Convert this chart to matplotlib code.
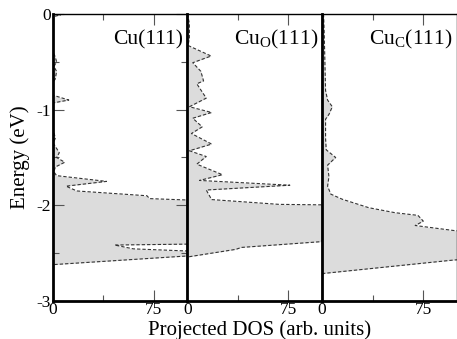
import numpy as np
import matplotlib.pyplot as plt
from matplotlib.ticker import MultipleLocator

plt.rcParams['font.family'] = ['Liberation Serif', 'DejaVu Serif']
plt.rcParams['mathtext.fontset'] = 'custom'
plt.rcParams['mathtext.rm'] = 'Liberation Serif'

# Cu(111) projected DOS (energy in eV, DOS in arb. units)
e_cu = [0.0, -0.01, -0.03, -0.1, -0.4, -0.45, -0.5, -0.55, -0.6, -0.68, -0.72,
        -0.85, -0.9, -0.93, -1.2, -1.3, -1.35, -1.45, -1.5, -1.55, -1.6, -1.65,
        -1.69, -1.75, -1.8, -1.85, -1.9, -1.93, -1.96, -2.40, -2.415, -2.455,
        -2.48, -2.50, -2.52, -2.62, -3.0]
dos_cu = [0, 6, 0, 0.5, 0.5, 2, 3, 1, 3, 2, 0,
          0.5, 12, 0.5, 0.5, 2, 0.5, 5, 3, 9, 2, 1,
          3, 40, 10, 18, 70, 72, 130, 130, 46, 60,
          105, 130, 110, 0, 0]

# Cu_O(111)
e_cuo = [0.0, -0.1, -0.25, -0.33, -0.44, -0.51, -0.6, -0.7, -0.73, -0.88, -0.97,
         -1.03, -1.09, -1.18, -1.25, -1.36, -1.43, -1.49, -1.57, -1.68, -1.74,
         -1.79, -1.84, -1.94, -1.99, -2.0, -2.38, -2.44, -2.46, -2.54, -3.0]
dos_cuo = [0, 1.5, 1.5, 0.5, 17.6, 4, 10, 12, 7, 14, 1.5,
           18, 4, 11, 3, 18, 1.5, 14, 7, 26, 9,
           76, 14, 18, 68, 130, 99, 40, 36, 0, 0]

# Cu_C(111)
e_cuc = [0.0, -0.2, -0.5, -0.8, -0.9, -0.97, -1.05, -1.1, -1.3, -1.42, -1.5,
         -1.58, -1.7, -1.8, -1.883, -1.937, -2.025, -2.077, -2.105, -2.165,
         -2.211, -2.264, -2.3, -2.55, -2.571, -2.711, -2.72, -3.0]
dos_cuc = [1, 1.5, 2, 2.5, 4, 7.5, 5, 2.5, 2.5, 3, 10,
           4, 5, 4, 6.4, 15, 34.6, 54, 71, 75,
           69, 98, 130, 130, 98, 1.5, 0, 0]

panels = [(e_cu, dos_cu, 'Cu(111)'),
          (e_cuo, dos_cuo, r'Cu$_{\mathregular{O}}$(111)'),
          (e_cuc, dos_cuc, r'Cu$_{\mathregular{C}}$(111)')]

fig = plt.figure(figsize=(4.57, 3.39), dpi=100)
left, bottom, top = 0.115, 0.112, 0.959
width = (1.0 - left) / 3

for i, (e, dos, name) in enumerate(panels):
    ax = fig.add_axes([left + i * width, bottom, width, top - bottom])
    ax.fill_betweenx(e, 0, dos, color='#dcdcdc', lw=0)
    ax.plot(dos, e, color='#333333', lw=0.8, dashes=(3, 1.8))
    ax.set_xlim(0, 100)
    ax.set_ylim(-3, 0)
    ax.xaxis.set_major_locator(MultipleLocator(75))
    ax.xaxis.set_minor_locator(MultipleLocator(37.5))
    ax.yaxis.set_major_locator(MultipleLocator(1))
    ax.yaxis.set_minor_locator(MultipleLocator(0.5))
    ax.tick_params(which='both', direction='in', top=True, labelsize=12.5,
                   pad=1, width=0.8, color='#555555')
    ax.tick_params(which='major', length=8)
    ax.tick_params(which='minor', length=4)
    ax.spines['left'].set_linewidth(2)
    ax.spines['bottom'].set_linewidth(2)
    ax.spines['top'].set_linewidth(1)
    ax.spines['right'].set_linewidth(1)
    if i == 0:
        ax.tick_params(which='both', right=True)
        ax.set_yticks([0, -1, -2, -3])
        ax.set_yticklabels(['0', '-1', '-2', '-3'])
    else:
        ax.tick_params(which='both', left=False, right=False, labelleft=False)
    ax.text(0.97, 0.91, name, transform=ax.transAxes, ha='right', va='center',
            fontsize=15.5)

fig.text(0.567, 0.012, 'Projected DOS (arb. units)', ha='center',
         va='baseline', fontsize=15)
fig.text(0.044, 0.535, 'Energy (eV)', ha='center', va='center',
         rotation=90, fontsize=15)

fig.savefig('out.png', dpi=100)
